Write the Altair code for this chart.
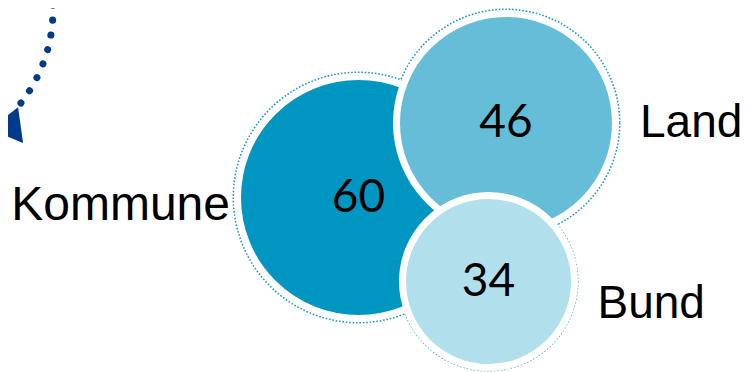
import altair as alt
import pandas as pd

# ---- data -------------------------------------------------------------
ebenen = ["Kommune", "Land", "Bund"]
werte = [60, 46, 34]
farben = ["#0096C1", "#65BDD8", "#B1DFEB"]

df = pd.DataFrame({"Ebene": ebenen, "Wert": werte})

# ---- layout (pixel positions of the bubble centres / bubble radii) -----
centre_x = {"Kommune": 350.5, "Land": 498.0, "Bund": 480.5}
centre_y = {"Kommune": 189.5, "Land": 115.0, "Bund": 273.5}
fill_r = {"Kommune": 117.5, "Land": 106.0, "Bund": 82.5}
ring_gap = 3.5       # half of the white ring
dotted_r = {"Kommune": 125.0, "Land": 113.5, "Bund": 89.0}

order_by_value = [e for _, e in sorted(zip(werte, ebenen))]
dom = sorted(werte)

x_scale = alt.Scale(domain=dom, range=[centre_x[e] for e in order_by_value],
                    zero=False, nice=False)
y_scale = alt.Scale(domain=dom, range=[centre_y[e] for e in order_by_value],
                    zero=False, nice=False)
size_fill = alt.Scale(domain=dom, range=[(2 * (fill_r[e] + ring_gap)) ** 2 for e in order_by_value],
                      zero=False, nice=False)
size_dot = alt.Scale(domain=dom, range=[(2 * dotted_r[e]) ** 2 for e in order_by_value],
                     zero=False, nice=False)

X = alt.X("Wert:Q", scale=x_scale, axis=None)
Y = alt.Y("Wert:Q", scale=y_scale, axis=None)

base = alt.Chart(df)

dotted = base.mark_point(shape="circle", filled=False, color="#1C98CE",
                         strokeWidth=2, strokeDash=[1.6, 1.8], opacity=1).encode(
    x=X, y=Y, size=alt.Size("Wert:Q", scale=size_dot, legend=None))

fills = base.mark_point(shape="circle", filled=True, stroke="white",
                        strokeWidth=2 * ring_gap, opacity=1, strokeOpacity=1).encode(
    x=X, y=Y,
    size=alt.Size("Wert:Q", scale=size_fill, legend=None),
    color=alt.Color("Ebene:N", scale=alt.Scale(domain=ebenen, range=farben), legend=None),
    order=alt.Order("Wert:Q", sort="descending"))

numbers = base.mark_text(font="Lato", fontSize=46, align="center", baseline="middle",
                         color="black").encode(x=X, y=Y, text=alt.Text("Wert:Q"))

lab_k = base.transform_filter(alt.datum.Ebene == "Kommune").mark_text(
    font="Liberation Sans", fontSize=48, align="right", baseline="alphabetic",
    dx=-128.5, dy=22, color="black").encode(x=X, y=Y, text="Ebene:N")
lab_l = base.transform_filter(alt.datum.Ebene == "Land").mark_text(
    font="Liberation Sans", fontSize=46, align="left", baseline="alphabetic",
    dx=134, dy=14, color="black").encode(x=X, y=Y, text="Ebene:N")
lab_b = base.transform_filter(alt.datum.Ebene == "Bund").mark_text(
    font="Liberation Sans", fontSize=46, align="left", baseline="alphabetic",
    dx=109, dy=36.5, color="black").encode(x=X, y=Y, text="Ebene:N")

# ---- decorative dotted arrow (top left) --------------------------------
arc_cx, arc_cy, arc_r = -107.0, 1.6, 152.0
arrow_col = "#003A8C"
arc = alt.Chart(alt.sequence(-1.7, 39.1, 0.5, as_="deg")).transform_calculate(
    px=f"{arc_cx} + {arc_r} * cos(datum.deg * PI / 180)",
    py=f"{arc_cy} + {arc_r} * sin(datum.deg * PI / 180)",
).mark_line(color=arrow_col, strokeWidth=7, strokeCap="round",
            strokeDash=[0.1, 14.9]).encode(
    x=alt.X("px:Q", scale=None, axis=None),
    y=alt.Y("py:Q", scale=None, axis=None),
    order=alt.Order("deg:Q"))

head = alt.Chart(pd.DataFrame({"pfeil": [1]})).mark_point(
    shape="triangle-left", filled=True, color=arrow_col, opacity=1,
    size=1300, angle=352).encode(x=alt.value(-2.9), y=alt.value(119.2))

chart = alt.layer(arc, head, dotted, fills, numbers, lab_k, lab_l, lab_b).resolve_scale(
    x="independent", y="independent", size="independent", color="independent"
).properties(
    width=735, height=364, padding=0,
    autosize=alt.AutoSizeParams(type="none"),
).configure_view(stroke=None)

chart.save("out.html", embed_options={"renderer": "svg", "actions": False})
